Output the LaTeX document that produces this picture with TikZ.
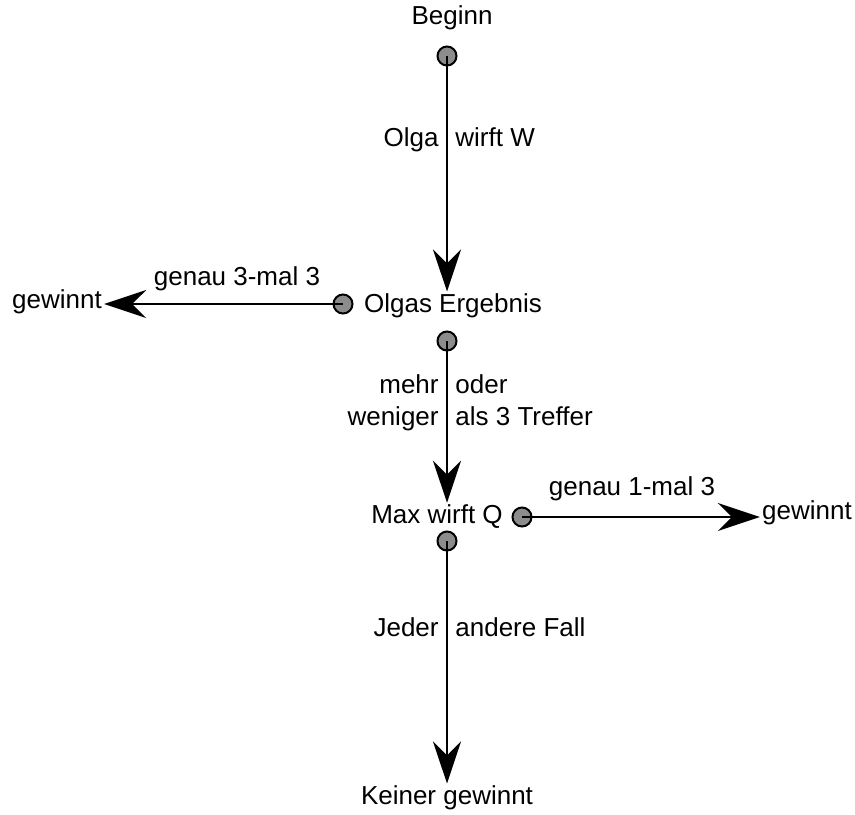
\documentclass[tikz,border=0pt]{standalone}
\usepackage{fontspec}
\setmainfont{Liberation Sans}
\usetikzlibrary{arrows.meta}

\tikzset{
  dot/.style={circle, draw=black, fill=gray!90, line width=1pt, minimum size=9.5pt, inner sep=0pt},
  txt/.style={inner sep=1pt, font=\fontsize{13}{15}\selectfont},
  flow/.style={line width=1pt, -{Stealth[length=21pt, width=14pt, inset=7pt]}},
}

\begin{document}
\begin{tikzpicture}[x=0.5pt, y=-0.5pt]
  \useasboundingbox (0,0) rectangle (855,814);

  % stations
  \node[txt] (beginn) at (452,18) {Beginn};
  \node[dot] (dbeginn) at (447,56) {};
  \node[txt] (olgas) at (453,306) {Olgas Ergebnis};
  \node[dot] (dolgasl) at (343,304) {};
  \node[dot] (dolgas) at (447,341) {};
  \node[txt] (max) at (437,517) {Max wirft Q};
  \node[dot] (dmaxr) at (522,517) {};
  \node[dot] (dmax) at (447,541) {};
  \node[txt] (winl) at (57,302) {gewinnt};
  \node[txt] (winr) at (807,513) {gewinnt};
  \node[txt] (keiner) at (447,798) {Keiner gewinnt};

  % edge labels
  \node[txt, anchor=base east] (olga) at (441,146) {Olga};
  \node[txt, anchor=base west] (wirft) at (453,146) {wirft W};
  \node[txt] (drei) at (237,279) {genau 3-mal 3};
  \node[txt, anchor=base east] (mehr) at (441,393) {mehr};
  \node[txt, anchor=base west] (oder) at (453,393) {oder};
  \node[txt, anchor=base east] (weniger) at (441,425) {weniger};
  \node[txt, anchor=base west] (treffer) at (453,425) {als 3 Treffer};
  \node[txt] (eins) at (632,489) {genau 1-mal 3};
  \node[txt, anchor=base east] (jeder) at (441,636) {Jeder};
  \node[txt, anchor=base west] (fall) at (453,636) {andere Fall};

  % arrows
  \draw[flow] (dbeginn.center) -- (dbeginn |- olgas.north);
  \draw[flow] (dolgasl.center) -- (dolgasl -| winl.east);
  \draw[flow] (dolgas.center) -- (dolgas |- max.north);
  \draw[flow] (dmaxr.center) -- (dmaxr -| winr.west);
  \draw[flow] (dmax.center) -- (dmax |- keiner.north);
\end{tikzpicture}
\end{document}
